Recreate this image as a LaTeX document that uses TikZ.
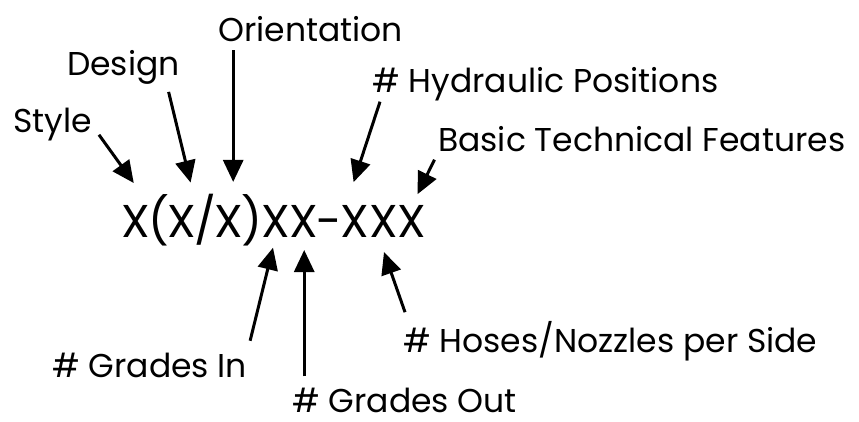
\documentclass[tikz,border=0pt]{standalone}
\usepackage{fontspec}
\setmainfont{Poppins}
\usetikzlibrary{arrows.meta,positioning}

\begin{document}
\begin{tikzpicture}[
    x=1pt,y=-1pt,
    lbl/.style={font=\fontsize{33}{40}\selectfont,inner sep=0pt,anchor=base west},
    chr/.style={font=\fontsize{46}{56}\selectfont,inner sep=0pt,outer sep=0pt,anchor=base west},
    pnc/.style={chr,inner xsep=-1.5pt},
    ptr/.style={line width=3pt,-{Triangle[length=22pt,width=20pt]}}
  ]
  \useasboundingbox (0,0) rectangle (859,422);

  % part number, one node per character
  \node[chr] (c1) at (121,237) {X};
  \node[pnc] (c2) at (c1.base east) {(};
  \node[chr] (c3) at (c2.base east) {X};
  \node[pnc] (c4) at (c3.base east) {/};
  \node[chr] (c5) at (c4.base east) {X};
  \node[pnc] (c6) at (c5.base east) {)};
  \node[chr] (c7) at (c6.base east) {X};
  \node[chr] (c8) at (c7.base east) {X};
  \node[pnc] (c9) at (c8.base east) {-};
  \node[chr] (c10) at (c9.base east) {X};
  \node[chr] (c11) at (c10.base east) {X};
  \node[chr] (c12) at (c11.base east) {X};

  % labels above
  \node[lbl] (sty) at (13,133) {Style};
  \node[lbl] (dsg) at (67,76) {Design};
  \node[lbl] (ori) at (218,42) {Orientation};
  \node[lbl] (hyd) at (372,93) {\# Hydraulic Positions};
  \node[lbl] (bas) at (438,152) {Basic Technical Features};

  % labels below
  \node[lbl] (gin) at (52,377) {\# Grades In};
  \node[lbl] (gout) at (292,412) {\# Grades Out};
  \node[lbl] (hos) at (403,352) {\# Hoses/Nozzles per Side};

  \draw[ptr,shorten <=12pt,shorten >=27pt] (sty.east) -- (c1.north east);
  \draw[ptr,shorten <=7pt,shorten >=23pt] ([xshift=-13pt]dsg.south east) -- (c3.north east);
  \draw[ptr,shorten <=8pt,shorten >=23pt] ([xshift=4pt]c5.north |- ori.south) -- ([xshift=4pt]c5.north);
  \draw[ptr,shorten >=24pt] ([xshift=8pt]hyd.south west) -- ([xshift=-9pt]c10.north);
  \draw[ptr,shorten <=8pt,shorten >=12pt] (bas.south west) -- (c12.north);

  \draw[ptr,shorten <=12pt,shorten >=11pt] (gin.north east) -- (c7.south);
  \draw[ptr,shorten <=11pt,shorten >=13pt] (c8.south |- gout.north) -- (c8.south);
  \draw[ptr,shorten <=9pt,shorten >=16pt] ([xshift=5pt]hos.north west) -- ([xshift=-5pt]c11.south);
\end{tikzpicture}
\end{document}
